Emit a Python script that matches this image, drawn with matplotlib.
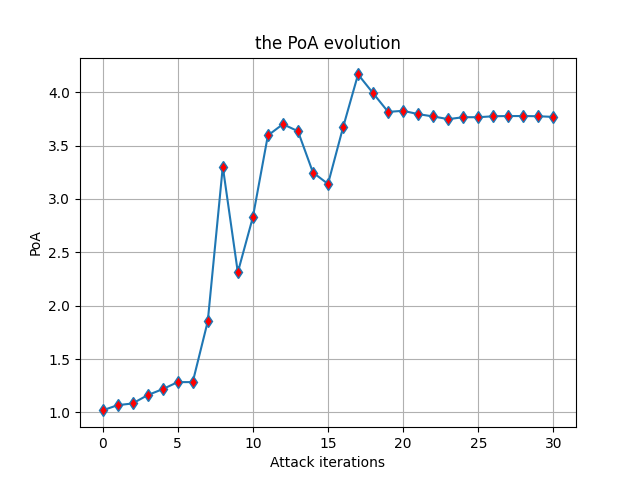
import numpy as np
import matplotlib
matplotlib.use('Agg')
import matplotlib.pyplot as plt

iterations = list(range(31))
poa = [1.019, 1.068, 1.084, 1.162, 1.218, 1.284, 1.284, 1.853, 3.302, 2.312,
       2.828, 3.594, 3.700, 3.634, 3.247, 3.140, 3.669, 4.166, 3.990, 3.815,
       3.825, 3.794, 3.772, 3.747, 3.765, 3.765, 3.774, 3.776, 3.776, 3.774,
       3.768]

plt.figure(figsize=(6.4, 4.8), dpi=100)
plt.plot(iterations, poa, marker='d', markerfacecolor='red')
plt.title('the PoA evolution')
plt.xlabel('Attack iterations')
plt.ylabel('PoA')
plt.grid(True)
plt.savefig('out.png', dpi=100)
plt.close()
